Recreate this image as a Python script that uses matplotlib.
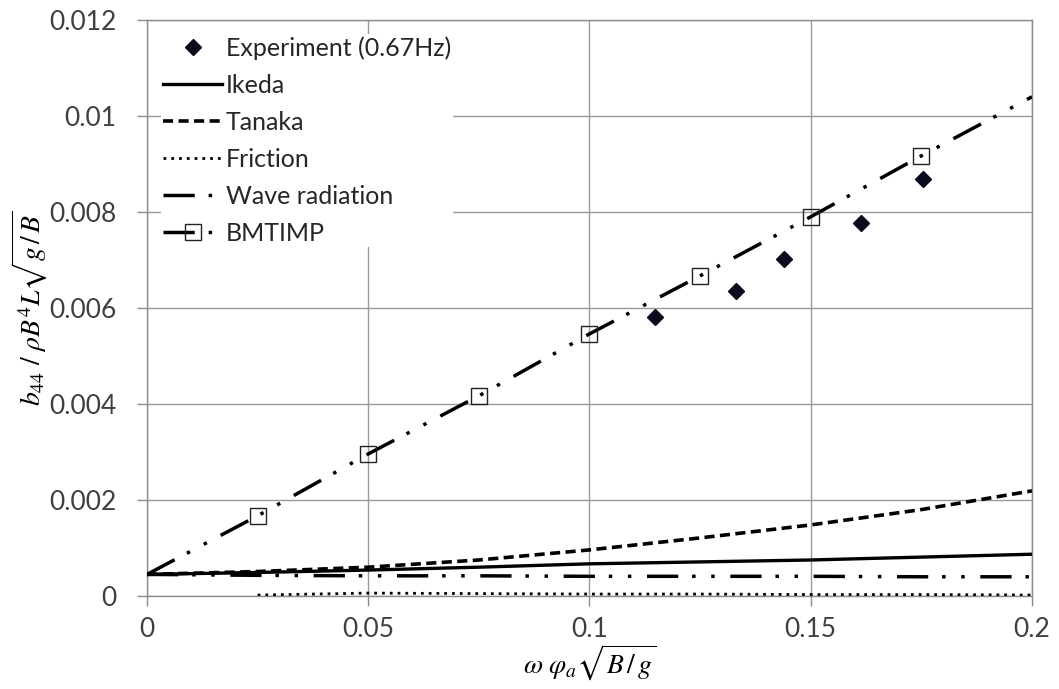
import matplotlib
matplotlib.use("Agg")
import matplotlib.pyplot as plt

# -----------------------------
# 数据
# -----------------------------
x_calc = [0, 0.025, 0.05, 0.075, 0.1, 0.125, 0.15, 0.175, 0.2]

ikeda = [0.00045, 0.00049, 0.00054, 0.00060, 0.00067, 0.00071, 0.00075, 0.00081, 0.00087]
tanaka = [0.00045, 0.00051, 0.00060, 0.00075, 0.00096, 0.00121, 0.00148, 0.00180, 0.00219]
wave = [0.00045, 0.00043, 0.00042, 0.00042, 0.00041, 0.00041, 0.00041, 0.00040, 0.00040]
bmtimp = [0.00045, 0.00167, 0.00296, 0.00417, 0.00546, 0.00667, 0.00790, 0.00917, 0.01040]

x_fric = [0.025, 0.05, 0.075, 0.1, 0.125, 0.15, 0.175, 0.2]
friction = [0.00002, 0.00006, 0.00005, 0.00004, 0.00004, 0.00003, 0.00003, 0.00002]

x_exp = [0.1148, 0.1331, 0.1440, 0.1614, 0.1754]
y_exp = [0.00581, 0.00635, 0.00702, 0.00777, 0.00869]

x_ticks = [0, 0.05, 0.1, 0.15, 0.2]
x_tick_labels = ["0", "0.05", "0.1", "0.15", "0.2"]
y_ticks = [0, 0.002, 0.004, 0.006, 0.008, 0.01, 0.012]
y_tick_labels = ["0", "0.002", "0.004", "0.006", "0.008", "0.01", "0.012"]

# -----------------------------
# 画图
# -----------------------------
plt.rcParams["font.family"] = ["Lato", "DejaVu Sans"]
plt.rcParams["mathtext.fontset"] = "stix"

fig = plt.figure(figsize=(10.59, 6.89), dpi=100)
ax = fig.add_axes([0.1388, 0.135, 0.8357, 0.836])

dash_dot_dot = (0, (9, 4, 1, 4.5, 1, 4.5))

ax.plot(x_exp, y_exp, linestyle="none", marker="D", markersize=8.5,
        color="#0b0b1e", label="Experiment (0.67Hz)", zorder=6)
ax.plot(x_calc, ikeda, color="black", lw=2.4, label="Ikeda", zorder=4)
ax.plot(x_calc, tanaka, color="black", lw=2.6, linestyle=(0, (2.8, 1.5)),
        label="Tanaka", zorder=4)
ax.plot(x_fric, friction, color="black", lw=2.0, linestyle=(0, (1, 1.8)),
        label="Friction", zorder=4)
ax.plot(x_calc, wave, color="black", lw=2.5, linestyle=dash_dot_dot,
        label="Wave radiation", zorder=4)
ax.plot(x_calc, bmtimp, color="black", lw=2.5, linestyle=dash_dot_dot,
        marker="s", markersize=12, markerfacecolor="none",
        markeredgecolor="#222222", markeredgewidth=1.0,
        markevery=slice(1, 8), label="BMTIMP", zorder=5)

ax.set_xlim(0, 0.2)
ax.set_ylim(0, 0.012)
ax.set_xticks(x_ticks)
ax.set_xticklabels(x_tick_labels)
ax.set_yticks(y_ticks)
ax.set_yticklabels(y_tick_labels)
ax.tick_params(axis="both", labelsize=19, colors="#404040",
               length=7, width=1.0, color="#8c8c8c")
ax.tick_params(axis="x", pad=8)
ax.tick_params(axis="y", pad=15)

ax.grid(True, color="#9a9a9a", lw=1.0)
ax.set_axisbelow(True)
for s in ax.spines.values():
    s.set_color("#8c8c8c")
    s.set_linewidth(1.0)

ax.set_xlabel(r"$\omega\ \varphi_a\sqrt{B\,/\,g}$", fontsize=20, labelpad=1)
ax.set_ylabel(r"$b_{44}\ /\ \rho B^4 L\sqrt{g\,/\,B}$", fontsize=20, labelpad=-1)

leg = ax.legend(loc="upper left", bbox_to_anchor=(0.0, 1.0), fontsize=18,
                frameon=True, fancybox=False, edgecolor="none", facecolor="white",
                framealpha=1.0, handlelength=2.35, handletextpad=0.15,
                labelspacing=0.56, borderpad=0.1, borderaxespad=0.55)
for t in leg.get_texts():
    t.set_color("#262626")

fig.savefig("out.png", dpi=100)
plt.close(fig)
